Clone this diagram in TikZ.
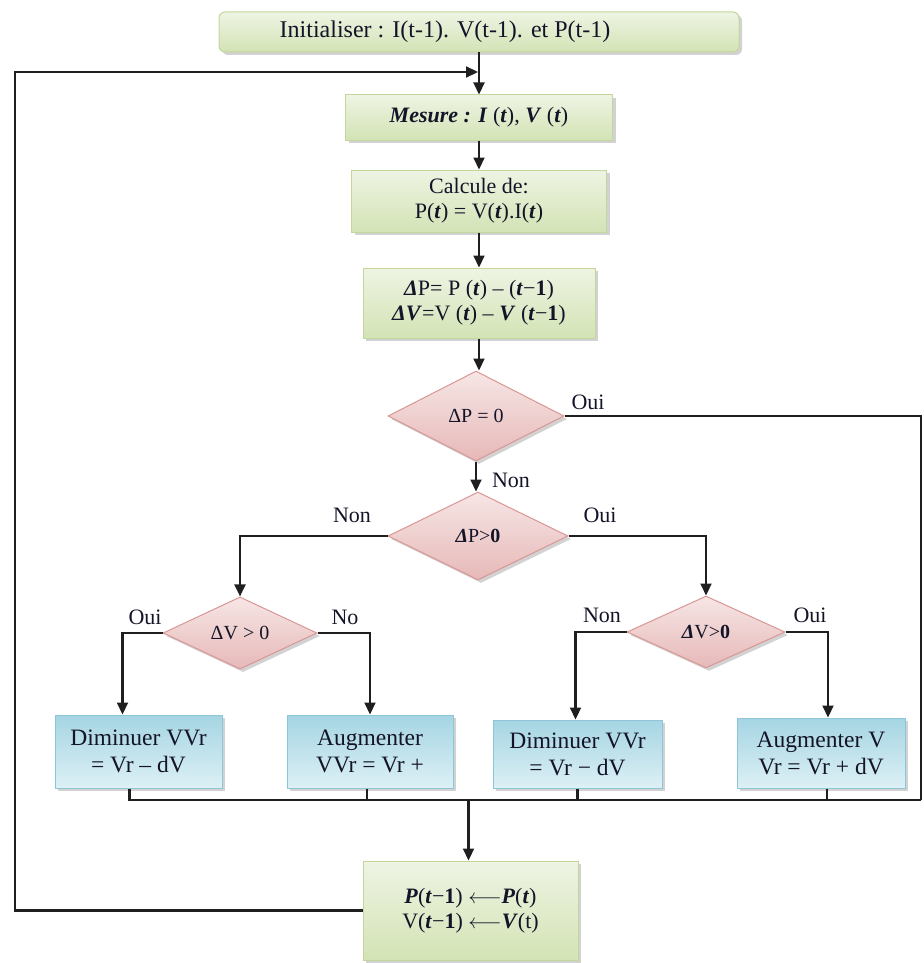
\documentclass[tikz,border=0pt]{standalone}
\usepackage{fontspec}
\setmainfont{Liberation Serif}
\usetikzlibrary{shapes.geometric,shadows,arrows.meta,calc}
\definecolor{gA}{HTML}{EEF4E3}
\definecolor{gB}{HTML}{D3E3B5}
\definecolor{gE}{HTML}{C3D69B}
\definecolor{pA}{HTML}{F6E6E5}
\definecolor{pB}{HTML}{E6B9B8}
\definecolor{pE}{HTML}{D99694}
\definecolor{bA}{HTML}{DDF0F5}
\definecolor{bB}{HTML}{A5D5E3}
\definecolor{bE}{HTML}{8CC6D8}
\definecolor{ink}{HTML}{141428}
\newcommand{\bt}{\textbf{\textit{t}}}
\newcommand{\bone}{\textbf{1}}
\newcommand{\bi}[1]{\textbf{\textit{#1}}}
\newcommand{\larr}{\(\longleftarrow\)}
\begin{document}
\begin{tikzpicture}[x=1pt,y=-1pt,
  txt/.style={font=\fontsize{22}{25}\selectfont, text=ink},
  shad/.style={drop shadow={shadow xshift=3pt,shadow yshift=-3pt,fill=black!35,opacity=.5}},
  gbox/.style={txt, shad, draw=gE, line width=1pt, top color=gA, bottom color=gB, inner sep=0pt, align=center},
  bbox/.style={txt, font=\fontsize{23.5}{27}\selectfont, shad, draw=bE, line width=1pt, top color=bB, bottom color=bA, inner sep=0pt, align=center},
  dia/.style={diamond, txt, font=\fontsize{20}{23}\selectfont, shad, draw=pE, line width=1pt, top color=pA, bottom color=pB, inner sep=0pt},
  lab/.style={txt, inner sep=0pt},
  conn/.style={line width=2.1pt, draw=black!88},
  arr/.style={conn, -{Triangle[length=12pt,width=11pt]}}
]
\useasboundingbox (0,0) rectangle (923,963);

% process nodes
\node[gbox, rounded corners=6pt, minimum width=520pt, minimum height=40pt,
  label={[txt, font=\fontsize{24}{28}\selectfont, xshift=-34pt]center:Initialiser : I(t-1). V(t-1). et P(t-1)}] (init) at (479,32) {};
\node[gbox, minimum width=267pt, minimum height=45pt] (mes) at (479,117.5) {\bi{Mesure : I} (\bt), \bi{V} (\bt)};
\node[gbox, minimum width=255pt, minimum height=62pt] (calc) at (479,201) {Calcule de:\\P(\bt) = V(\bt).I(\bt)};
\node[gbox, minimum width=232pt, minimum height=70pt] (dp) at (479,303) {\bi{Δ}P= P (\bt) – (\bt−\bone)\\\bi{ΔV}=V (\bt) – \bi{V} (\bt−\bone)};

% decisions
\node[dia, minimum width=176pt, minimum height=90pt] (d1) at (476,416) {ΔP = 0};
\node[dia, minimum width=180pt, minimum height=88pt] (d2) at (478,536) {\bi{Δ}P>\textbf{0}};
\node[dia, minimum width=154pt, minimum height=72pt] (d3) at (240,633) {ΔV > 0};
\node[dia, minimum width=158pt, minimum height=72pt] (d4) at (706,632) {\bi{Δ}V>\textbf{0}};

% action boxes
\node[bbox, minimum width=167pt, minimum height=73pt] (b1) at (138.5,751.5) {Diminuer VVr\\= Vr – dV};
\node[bbox, minimum width=166pt, minimum height=73pt] (b2) at (370,751.5) {Augmenter\\VVr = Vr +};
\node[bbox, minimum width=169pt, minimum height=68pt] (b3) at (577.5,754) {Diminuer VVr\\= Vr − dV};
\node[bbox, minimum width=168pt, minimum height=70pt] (b4) at (821,753) {Augmenter V\\Vr = Vr + dV};

% final
\node[gbox, minimum width=215pt, minimum height=99pt] (fin) at (470.5,910.5) {\bi{P}(\bt−\bone) \larr\bi{P}(\bt)\\V(\bt−\bone) \larr\bi{V}(t)};

% helper coordinates
\coordinate (fbtop) at (15,72);
\coordinate (fbjoin) at (478,72);
\coordinate (rt) at (921,800);

% main column
\draw[arr] (init.south) -- (mes.north);
\draw[arr] (mes.south) -- (calc.north);
\draw[arr] (calc.south) -- (dp.north);
\draw[arr] (dp.south) -- (dp.south |- d1.north);
\draw[arr] (d1.south) -- (d1.south |- d2.north);
\node[lab] (lnon1) at (511,480) {Non};

% feedback loop
\draw[arr] (fin.west) -| (fbtop) -- (fbjoin);

% d1 oui to the right
\draw[conn] (d1.east) -- (d1.east -| rt) -- (rt);
\node[lab] (loui1) at (588,402) {Oui};

% d2 branches
\draw[arr] (d2.west) -| (d3.north);
\draw[arr] (d2.east) -| (d4.north);
\node[lab] (lnon2) at (352,515) {Non};
\node[lab] (loui2) at (600,515) {Oui};

% d3 branches
\draw[arr] (d3.west) -| ([xshift=-16pt]b1.north);
\draw[arr] (d3.east) -| (b2.north);
\node[lab] (loui3) at (145,617) {Oui};
\node[lab] (lno3) at (345,617) {No};

% d4 branches
\draw[arr] (d4.west) -| ([xshift=-2pt]b3.north);
\draw[arr] (d4.east) -| ([xshift=7pt]b4.north);
\node[lab] (lnon4) at (602,615) {Non};
\node[lab] (loui4) at (810,615) {Oui};

% collector
\draw[conn] ([xshift=-9pt]b1.south) -- ([xshift=-9pt]b1.south |- rt) -- (rt);
\draw[conn] ([xshift=-3pt]b2.south) -- ([xshift=-3pt]b2.south |- rt);
\draw[conn] (b3.south) -- (b3.south |- rt);
\draw[conn] ([xshift=6pt]b4.south) -- ([xshift=6pt]b4.south |- rt);
\draw[arr] ([xshift=-2pt]fin.north |- rt) -- ([xshift=-2pt]fin.north);
\end{tikzpicture}
\end{document}
